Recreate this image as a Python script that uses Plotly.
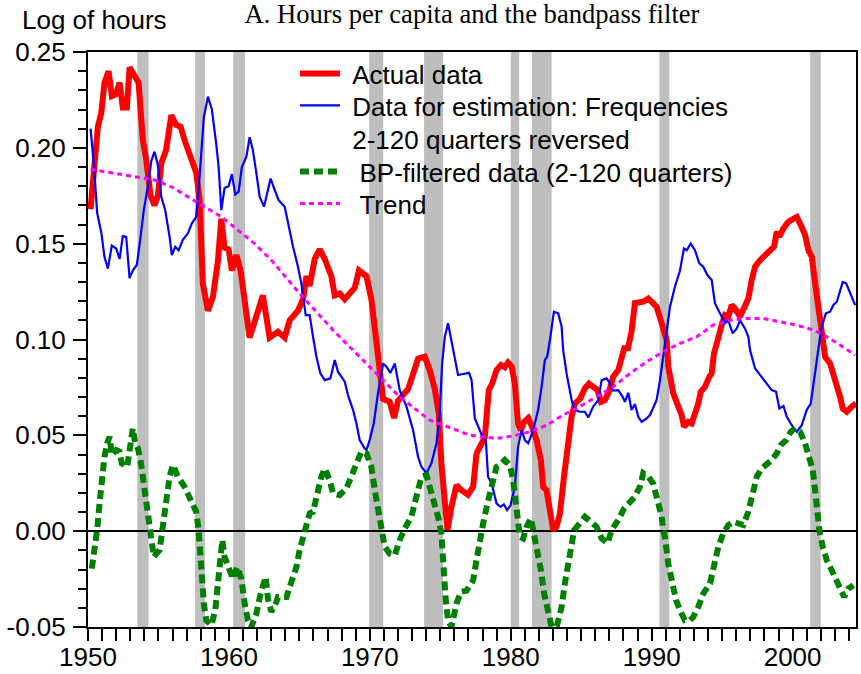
import plotly.graph_objects as go

# ---------------- data ----------------
actual_x = [1950.18, 1950.70, 1950.94, 1951.17, 1951.46, 1951.69, 1952.00, 1952.24, 1952.47, 1952.76,
            1952.95, 1953.30, 1953.59, 1953.89, 1954.13, 1954.44, 1954.72, 1954.96, 1955.20, 1955.55,
            1955.91, 1956.26, 1956.57, 1956.85, 1957.33, 1957.68, 1957.92, 1958.15, 1958.51, 1958.86,
            1959.22, 1959.46, 1959.69, 1959.98, 1960.21, 1960.53, 1960.83, 1961.12, 1961.47, 1962.41,
            1962.89, 1963.48, 1963.96, 1964.31, 1964.90, 1965.26, 1965.50, 1965.73, 1966.09, 1966.44,
            1966.80, 1967.27, 1967.51, 1967.86, 1968.22, 1968.57, 1968.93, 1969.23, 1969.76, 1970.11,
            1970.47, 1970.70, 1970.94, 1971.41, 1971.72, 1972.00, 1972.36, 1972.71, 1973.07, 1973.42,
            1973.90, 1974.25, 1974.61, 1974.89, 1975.08, 1975.32, 1975.51, 1975.79, 1976.15, 1976.50,
            1976.97, 1977.33, 1977.57, 1977.88, 1978.16, 1978.44, 1978.68, 1978.99, 1979.30, 1979.58,
            1979.81, 1980.06, 1980.29, 1980.52, 1980.72, 1980.95, 1981.24, 1981.48, 1981.83, 1982.14,
            1982.30, 1982.54, 1982.78, 1983.01, 1983.25, 1983.49, 1983.77, 1984.08, 1984.32, 1984.55,
            1984.91, 1985.26, 1985.55, 1985.85, 1986.16, 1986.40, 1986.68, 1986.97, 1987.27, 1987.63,
            1987.87, 1988.05, 1988.32, 1988.57, 1988.81, 1989.40, 1989.76, 1990.35, 1990.71, 1991.06,
            1991.18, 1991.53, 1991.89, 1992.13, 1992.29, 1992.60, 1992.84, 1993.07, 1993.31, 1993.48,
            1993.78, 1994.09, 1994.26, 1994.42, 1994.62, 1994.85, 1994.97, 1995.20, 1995.44, 1995.68,
            1995.91, 1996.27, 1996.62, 1996.86, 1997.10, 1997.34, 1997.69, 1998.05, 1998.40, 1998.68,
            1998.88, 1999.06, 1999.35, 1999.70, 2000.06, 2000.30, 2000.58, 2000.89, 2001.12, 2001.36,
            2001.60, 2001.83, 2002.07, 2002.31, 2002.66, 2002.90, 2003.14, 2003.37, 2003.56, 2003.85,
            2004.20, 2004.50]
actual_y = [0.168, 0.211, 0.218, 0.234, 0.240, 0.227, 0.228, 0.234, 0.221, 0.221,
            0.242, 0.237, 0.234, 0.204, 0.194, 0.175, 0.170, 0.175, 0.192, 0.199,
            0.217, 0.212, 0.211, 0.204, 0.195, 0.187, 0.173, 0.129, 0.115, 0.122,
            0.141, 0.163, 0.148, 0.147, 0.136, 0.144, 0.136, 0.119, 0.101, 0.123,
            0.101, 0.104, 0.101, 0.110, 0.115, 0.121, 0.133, 0.128, 0.142, 0.147,
            0.142, 0.133, 0.123, 0.124, 0.121, 0.124, 0.127, 0.136, 0.133, 0.121,
            0.101, 0.0875, 0.069, 0.0675, 0.059, 0.068, 0.071, 0.074, 0.082, 0.090,
            0.091, 0.084, 0.074, 0.0615, 0.035, 0.011, 0.0006, 0.0127, 0.024, 0.0214,
            0.019, 0.0232, 0.0405, 0.045, 0.049, 0.0736, 0.077, 0.084, 0.0867, 0.0855,
            0.088, 0.086, 0.077, 0.056, 0.0527, 0.057, 0.059, 0.055, 0.0475, 0.037,
            0.023, 0.0214, 0.0127, 0.0006, 0.0023, 0.0093, 0.028, 0.046, 0.060, 0.0666,
            0.069, 0.0745, 0.077, 0.0753, 0.0736, 0.0675, 0.0684, 0.0727, 0.0806, 0.084,
            0.0893, 0.0954, 0.0954, 0.104, 0.119, 0.1197, 0.1214, 0.117, 0.1085, 0.0997,
            0.0858, 0.072, 0.065, 0.0606, 0.0545, 0.057, 0.0562, 0.0606, 0.0666, 0.0727,
            0.0753, 0.0806, 0.0823, 0.0927, 0.0988, 0.1032, 0.1075, 0.1127, 0.1119, 0.118,
            0.1162, 0.1119, 0.1171, 0.1214, 0.131, 0.138, 0.1414, 0.144, 0.1466, 0.1484,
            0.1562, 0.1536, 0.158, 0.1614, 0.163, 0.164, 0.1597, 0.1545, 0.1466, 0.1432,
            0.1293, 0.115, 0.0997, 0.091, 0.0875, 0.0823, 0.0762, 0.0701, 0.064, 0.0623,
            0.065, 0.0666]

estimation_x = [1950.18, 1950.41, 1950.65, 1950.94, 1951.17, 1951.41, 1951.69, 1952.00, 1952.24, 1952.47,
                1952.71, 1952.95, 1953.18, 1953.47, 1953.73, 1953.96, 1954.25, 1954.49, 1954.72, 1954.96,
                1955.20, 1955.48, 1955.79, 1955.95, 1956.19, 1956.43, 1956.73, 1957.09, 1957.37, 1957.68,
                1957.92, 1958.22, 1958.51, 1958.79, 1959.10, 1959.27, 1959.46, 1959.69, 1959.98, 1960.21,
                1960.45, 1960.69, 1960.92, 1961.24, 1961.47, 1961.70, 1961.95, 1962.18, 1962.49, 1962.73,
                1962.96, 1963.25, 1963.53, 1963.96, 1964.31, 1964.55, 1964.90, 1965.14, 1965.45, 1965.73,
                1965.97, 1966.21, 1966.49, 1966.80, 1967.20, 1967.51, 1967.74, 1968.22, 1968.45, 1968.81,
                1969.05, 1969.28, 1969.64, 1969.76, 1969.99, 1970.28, 1970.58, 1970.94, 1971.18, 1971.46,
                1971.77, 1972.12, 1972.60, 1973.07, 1973.42, 1973.66, 1974.02, 1974.37, 1974.73, 1974.96,
                1975.13, 1975.32, 1975.55, 1975.91, 1976.26, 1976.62, 1977.04, 1977.22, 1977.45, 1977.80,
                1978.04, 1978.23, 1978.39, 1978.64, 1978.99, 1979.27, 1979.51, 1979.74, 1979.99, 1980.29,
                1980.52, 1980.77, 1981.00, 1981.24, 1981.59, 1981.94, 1982.19, 1982.42, 1982.58, 1982.78,
                1983.06, 1983.37, 1983.61, 1983.72, 1983.96, 1984.32, 1984.55, 1984.91, 1985.26, 1985.50,
                1985.85, 1986.21, 1986.45, 1986.80, 1987.04, 1987.27, 1987.63, 1987.94, 1988.10, 1988.34,
                1988.57, 1988.81, 1989.05, 1989.29, 1989.64, 1989.88, 1990.16, 1990.35, 1990.59, 1990.82,
                1991.11, 1991.30, 1991.65, 1992.01, 1992.29, 1992.49, 1992.77, 1993.07, 1993.38, 1993.66,
                1993.95, 1994.26, 1994.49, 1994.85, 1995.20, 1995.44, 1995.75, 1996.04, 1996.27, 1996.62,
                1996.86, 1996.98, 1997.34, 1997.69, 1998.17, 1998.52, 1998.83, 1999.06, 1999.35, 1999.59,
                1999.94, 2000.30, 2000.65, 2001.01, 2001.29, 2001.48, 2001.72, 2001.95, 2002.07, 2002.36,
                2002.66, 2002.90, 2003.14, 2003.37, 2003.56, 2003.80, 2004.08, 2004.44]
estimation_y = [0.210, 0.192, 0.166, 0.156, 0.143, 0.137, 0.149, 0.1475, 0.142, 0.154,
                0.1536, 0.132, 0.136, 0.139, 0.1536, 0.1675, 0.180, 0.193, 0.198, 0.191,
                0.1745, 0.1675, 0.1536, 0.144, 0.1484, 0.1466, 0.152, 0.1554, 0.1606, 0.164,
                0.185, 0.216, 0.2267, 0.220, 0.202, 0.190, 0.1675, 0.179, 0.180, 0.1863,
                0.1757, 0.1771, 0.190, 0.1954, 0.2055, 0.1988, 0.1867, 0.1745, 0.1693, 0.1762,
                0.184, 0.178, 0.1727, 0.1693, 0.157, 0.1484, 0.138, 0.1293, 0.1127, 0.1127,
                0.1014, 0.091, 0.0823, 0.0788, 0.0797, 0.0893, 0.0832, 0.078, 0.071, 0.0632,
                0.0562, 0.0475, 0.0431, 0.0423, 0.0475, 0.0562, 0.072, 0.0875, 0.0858, 0.0826,
                0.0875, 0.0736, 0.065, 0.0527, 0.0389, 0.0336, 0.0302, 0.0354, 0.0458, 0.0615,
                0.0875, 0.1014, 0.1085, 0.0945, 0.0815, 0.082, 0.0826, 0.0788, 0.0588, 0.0527,
                0.0484, 0.0475, 0.0284, 0.0249, 0.0145, 0.0127, 0.014, 0.011, 0.0136, 0.0232,
                0.044, 0.0527, 0.0475, 0.0458, 0.0527, 0.0632, 0.0753, 0.0893, 0.091, 0.0997,
                0.1145, 0.1136, 0.1067, 0.0945, 0.0823, 0.0684, 0.0632, 0.0623, 0.0623, 0.0593,
                0.065, 0.0684, 0.0788, 0.0797, 0.0771, 0.0733, 0.0736, 0.0701, 0.0675, 0.0722,
                0.0632, 0.0663, 0.0597, 0.057, 0.0588, 0.0606, 0.065, 0.0684, 0.0788, 0.091,
                0.105, 0.1171, 0.1275, 0.136, 0.1475, 0.1466, 0.150, 0.1466, 0.1397, 0.138,
                0.1336, 0.131, 0.1189, 0.1136, 0.1085, 0.110, 0.1032, 0.1058, 0.110, 0.1058,
                0.1014, 0.0945, 0.0849, 0.0815, 0.0771, 0.0736, 0.0727, 0.064, 0.0653, 0.0597,
                0.0553, 0.0519, 0.0553, 0.0634, 0.0666, 0.0771, 0.0893, 0.1014, 0.1067, 0.1136,
                0.1145, 0.118, 0.1197, 0.125, 0.130, 0.1293, 0.124, 0.118]

bp_x = [1950.27, 1950.46, 1950.65, 1950.82, 1950.98, 1951.17, 1951.36, 1951.53, 1951.69, 1952.00,
        1952.24, 1952.40, 1952.78, 1953.02, 1953.18, 1953.35, 1953.54, 1953.73, 1953.96, 1954.13,
        1954.37, 1954.49, 1954.67, 1955.08, 1955.31, 1955.55, 1955.79, 1956.02, 1956.38, 1956.85,
        1957.28, 1957.68, 1957.85, 1958.04, 1958.22, 1958.39, 1958.75, 1959.03, 1959.22, 1959.41,
        1959.53, 1959.69, 1959.98, 1960.28, 1960.60, 1960.88, 1961.12, 1961.35, 1961.59, 1961.95,
        1962.25, 1962.61, 1962.77, 1963.01, 1963.37, 1963.48, 1964.08, 1964.43, 1964.79, 1965.02,
        1965.38, 1965.73, 1965.97, 1966.32, 1966.56, 1966.80, 1967.15, 1967.39, 1967.86, 1968.34,
        1968.69, 1969.05, 1969.40, 1969.76, 1970.11, 1970.35, 1970.58, 1970.82, 1971.06, 1971.41,
        1971.77, 1972.12, 1972.48, 1972.95, 1973.42, 1973.66, 1974.02, 1974.49, 1974.84, 1975.08,
        1975.20, 1975.37, 1975.55, 1975.79, 1976.15, 1976.46, 1976.86, 1977.33, 1977.57, 1977.80,
        1978.04, 1978.35, 1978.64, 1978.99, 1979.35, 1979.58, 1979.94, 1980.17, 1980.34, 1980.48,
        1980.65, 1980.88, 1981.12, 1981.43, 1981.66, 1981.94, 1982.14, 1982.37, 1982.66, 1982.90,
        1983.27, 1983.61, 1983.84, 1984.08, 1984.27, 1984.50, 1984.79, 1985.26, 1985.69, 1986.09,
        1986.45, 1986.87, 1987.16, 1987.63, 1988.05, 1988.46, 1988.81, 1989.17, 1989.40, 1989.76,
        1990.11, 1990.35, 1990.59, 1990.71, 1990.82, 1990.94, 1991.18, 1991.42, 1991.73, 1992.06,
        1992.36, 1992.72, 1992.95, 1993.31, 1993.66, 1994.14, 1994.49, 1994.73, 1995.08, 1995.44,
        1995.79, 1996.15, 1996.50, 1996.86, 1997.10, 1997.46, 1997.81, 1998.17, 1998.52, 1998.88,
        1999.16, 1999.54, 1999.87, 2000.18, 2000.53, 2000.89, 2001.19, 2001.43, 2001.60, 2001.76,
        2001.90, 2002.14, 2002.43, 2002.78, 2003.14, 2003.49, 2003.66, 2003.96, 2004.32]
bp_y = [-0.0195, -0.0098, 0.0006, 0.0145, 0.0284, 0.0389, 0.0458, 0.0493, 0.0397, 0.0423,
        0.0415, 0.0354, 0.0336, 0.0458, 0.0536, 0.0458, 0.0432, 0.0371, 0.0249, 0.0127,
        0.0006, -0.0064, -0.0134, -0.0098, 0.0023, 0.0162, 0.0284, 0.0345, 0.0284, 0.0232,
        0.0162, 0.0101, 0.0006, -0.0204, -0.0378, -0.0465, -0.0491, -0.0413, -0.0291, -0.0152,
        -0.0047, -0.0134, -0.0187, -0.0248, -0.0187, -0.0248, -0.0378, -0.0465, -0.0500, -0.0430,
        -0.0326, -0.0239, -0.0352, -0.0421, -0.0369, -0.0343, -0.0343, -0.0273, -0.0187, -0.0098,
        0.0006, 0.0093, 0.0101, 0.0214, 0.0284, 0.0327, 0.0266, 0.0197, 0.0188, 0.0223,
        0.0284, 0.0362, 0.0415, 0.0406, 0.0336, 0.0214, 0.0110, 0.0006, -0.0082, -0.0117,
        -0.0126, -0.0047, 0.0015, 0.0075, 0.0214, 0.0284, 0.0293, 0.0180, 0.0075, -0.0012,
        -0.0170, -0.0343, -0.0465, -0.0500, -0.0378, -0.0317, -0.0310, -0.0256, -0.0152, -0.0030,
        0.0041, 0.0145, 0.0249, 0.0336, 0.0354, 0.0371, 0.0345, 0.0266, 0.0162, 0.0041,
        -0.0030, -0.0038, 0.0023, 0.0067, -0.0012, -0.0134, -0.0204, -0.0326, -0.0430, -0.0500,
        -0.0495, -0.0395, -0.0273, -0.0169, -0.0082, 0.0006, 0.0032, 0.0075, 0.0049, 0.0023,
        -0.0038, -0.0064, 0.0006, 0.0058, 0.0119, 0.0153, 0.0180, 0.0232, 0.0302, 0.0284,
        0.0249, 0.0180, 0.0110, 0.0075, 0.0006, -0.0030, -0.0170, -0.0273, -0.0360, -0.0421,
        -0.0465, -0.0465, -0.0448, -0.0395, -0.0326, -0.0273, -0.0170, -0.0082, -0.0012, 0.0032,
        0.0049, 0.0041, 0.0032, 0.0101, 0.0180, 0.0284, 0.0327, 0.0345, 0.0371, 0.0406,
        0.0449, 0.0475, 0.0519, 0.0536, 0.0519, 0.0458, 0.0389, 0.0319, 0.0214, 0.0093,
        0.0006, -0.0082, -0.0152, -0.0204, -0.0256, -0.0308, -0.0343, -0.0300, -0.0282]

trend_x = [1950.18, 1951.88, 1953.30, 1954.72, 1955.91, 1957.09, 1958.27, 1959.46, 1960.64, 1961.82,
           1963.01, 1965.02, 1967.39, 1969.76, 1972.12, 1974.25, 1977.09, 1977.80, 1978.99, 1980.17,
           1981.36, 1982.54, 1983.72, 1984.91, 1986.09, 1987.27, 1988.46, 1989.64, 1990.82, 1992.01,
           1993.19, 1994.37, 1995.56, 1996.74, 1997.93, 1999.11, 2000.30, 2001.48, 2002.43, 2003.37,
           2004.44]
trend_y = [0.1888, 0.1867, 0.1853, 0.1832, 0.1797, 0.1745, 0.1693, 0.1640, 0.1571, 0.1500,
           0.1414, 0.1240, 0.1049, 0.0875, 0.0700, 0.0580, 0.0501, 0.0493, 0.0484, 0.0497,
           0.0519, 0.0553, 0.0606, 0.0650, 0.0700, 0.0753, 0.0823, 0.0884, 0.0936, 0.0980,
           0.1014, 0.1075, 0.1100, 0.1110, 0.1110, 0.1093, 0.1075, 0.1050, 0.1014, 0.0971,
           0.0919]

recession_start = [1953.50, 1957.60, 1960.30, 1969.95, 1973.85, 1980.00, 1981.50, 1990.55, 2001.25]
recession_end = [1954.30, 1958.30, 1961.15, 1970.95, 1975.20, 1980.60, 1982.90, 1991.25, 2002.00]

x_tick_vals = [1950, 1960, 1970, 1980, 1990, 2000]
x_tick_text = ["1950", "1960", "1970", "1980", "1990", "2000"]
y_tick_vals = [-0.05, 0.00, 0.05, 0.10, 0.15, 0.20, 0.25]
y_tick_text = ["-0.05", "0.00", "0.05", "0.10", "0.15", "0.20", "0.25"]

SANS = "Liberation Sans, Arial, Helvetica, sans-serif"
SERIF = "Liberation Serif, Times New Roman, serif"
NB = "\u00a0"

# plot area in pixels
L, R, T, B = 88, 856, 52, 627
W, H = R - L, B - T


def px_x(p):
    return (p - L) / W


def px_y(p):
    return (B - p) / H


fig = go.Figure()

for s, e in zip(recession_start, recession_end):
    fig.add_vrect(x0=s, x1=e, fillcolor="#bebebe", opacity=1, line_width=0, layer="below")

fig.add_trace(go.Scatter(x=actual_x, y=actual_y, mode="lines", name=NB + "Actual data",
                         legend="legend", line=dict(color="#ff0000", width=6)))
fig.add_trace(go.Scatter(x=estimation_x, y=estimation_y, mode="lines",
                         name=NB + "Data for estimation: Frequencies<br>" + NB + "2-120 quarters reversed",
                         legend="legend2", line=dict(color="#0000ff", width=2.2)))
fig.add_trace(go.Scatter(x=bp_x, y=bp_y, mode="lines",
                         name=NB + NB + "BP-filtered data (2-120 quarters)",
                         legend="legend3", line=dict(color="#008000", width=6, dash="9px,5px")))
fig.add_trace(go.Scatter(x=trend_x, y=trend_y, mode="lines", name=NB + NB + "Trend",
                         legend="legend4", line=dict(color="#ff00ff", width=3, dash="5px,4px")))


def leg(top_px):
    return dict(x=px_x(295), y=px_y(top_px), xanchor="left", yanchor="top",
                bgcolor="rgba(0,0,0,0)", borderwidth=0, valign="top", itemwidth=40,
                font=dict(family=SANS, size=26, color="black"))


fig.update_layout(
    width=861, height=674,
    margin=dict(l=L, r=861 - R, t=T, b=674 - B, autoexpand=False),
    paper_bgcolor="white", plot_bgcolor="white",
    font=dict(family=SANS, size=26, color="black"),
    title=dict(text="A. Hours per capita and the bandpass filter",
               font=dict(family=SERIF, size=26.6, color="black"),
               x=0.5, xref="paper", xanchor="center",
               y=1 - 14 / 674, yref="container", yanchor="middle"),
    showlegend=True,
    legend=leg(50), legend2=leg(82), legend3=leg(148), legend4=leg(180),
    xaxis=dict(range=[1950, 2004.5], tickmode="array", tickvals=x_tick_vals, ticktext=x_tick_text,
               ticks="outside", ticklen=12, tickwidth=2, tickcolor="black", ticklabelstandoff=-6,
               minor=dict(dtick=1, tick0=1950, ticks="outside", ticklen=12, tickwidth=2, tickcolor="black"),
               showline=True, linewidth=2, linecolor="black", mirror=True, automargin=False,
               showgrid=False, zeroline=False,
               tickfont=dict(family=SANS, size=26, color="black")),
    yaxis=dict(range=[-0.05, 0.25], tickmode="array", tickvals=y_tick_vals, ticktext=y_tick_text,
               ticks="outside", ticklen=13, tickwidth=2, tickcolor="black", ticklabelstandoff=2,
               minor=dict(dtick=0.01, tick0=0, ticks="outside", ticklen=8, tickwidth=2, tickcolor="black"),
               showline=True, linewidth=2, linecolor="black", mirror=True, automargin=False,
               showgrid=False, zeroline=True, zerolinecolor="black", zerolinewidth=2,
               tickfont=dict(family=SANS, size=26, color="black")),
)

fig.add_annotation(text="Log of hours", xref="paper", yref="paper",
                   x=px_x(20), y=px_y(20), xanchor="left", yanchor="middle",
                   showarrow=False, font=dict(family=SANS, size=26, color="black"))

# remove the browser's default 8px page margin so the figure sits at the window's top-left corner
fig.write_html("out.html", config={"displayModeBar": False},
               post_script="document.body.style.margin='0';")
